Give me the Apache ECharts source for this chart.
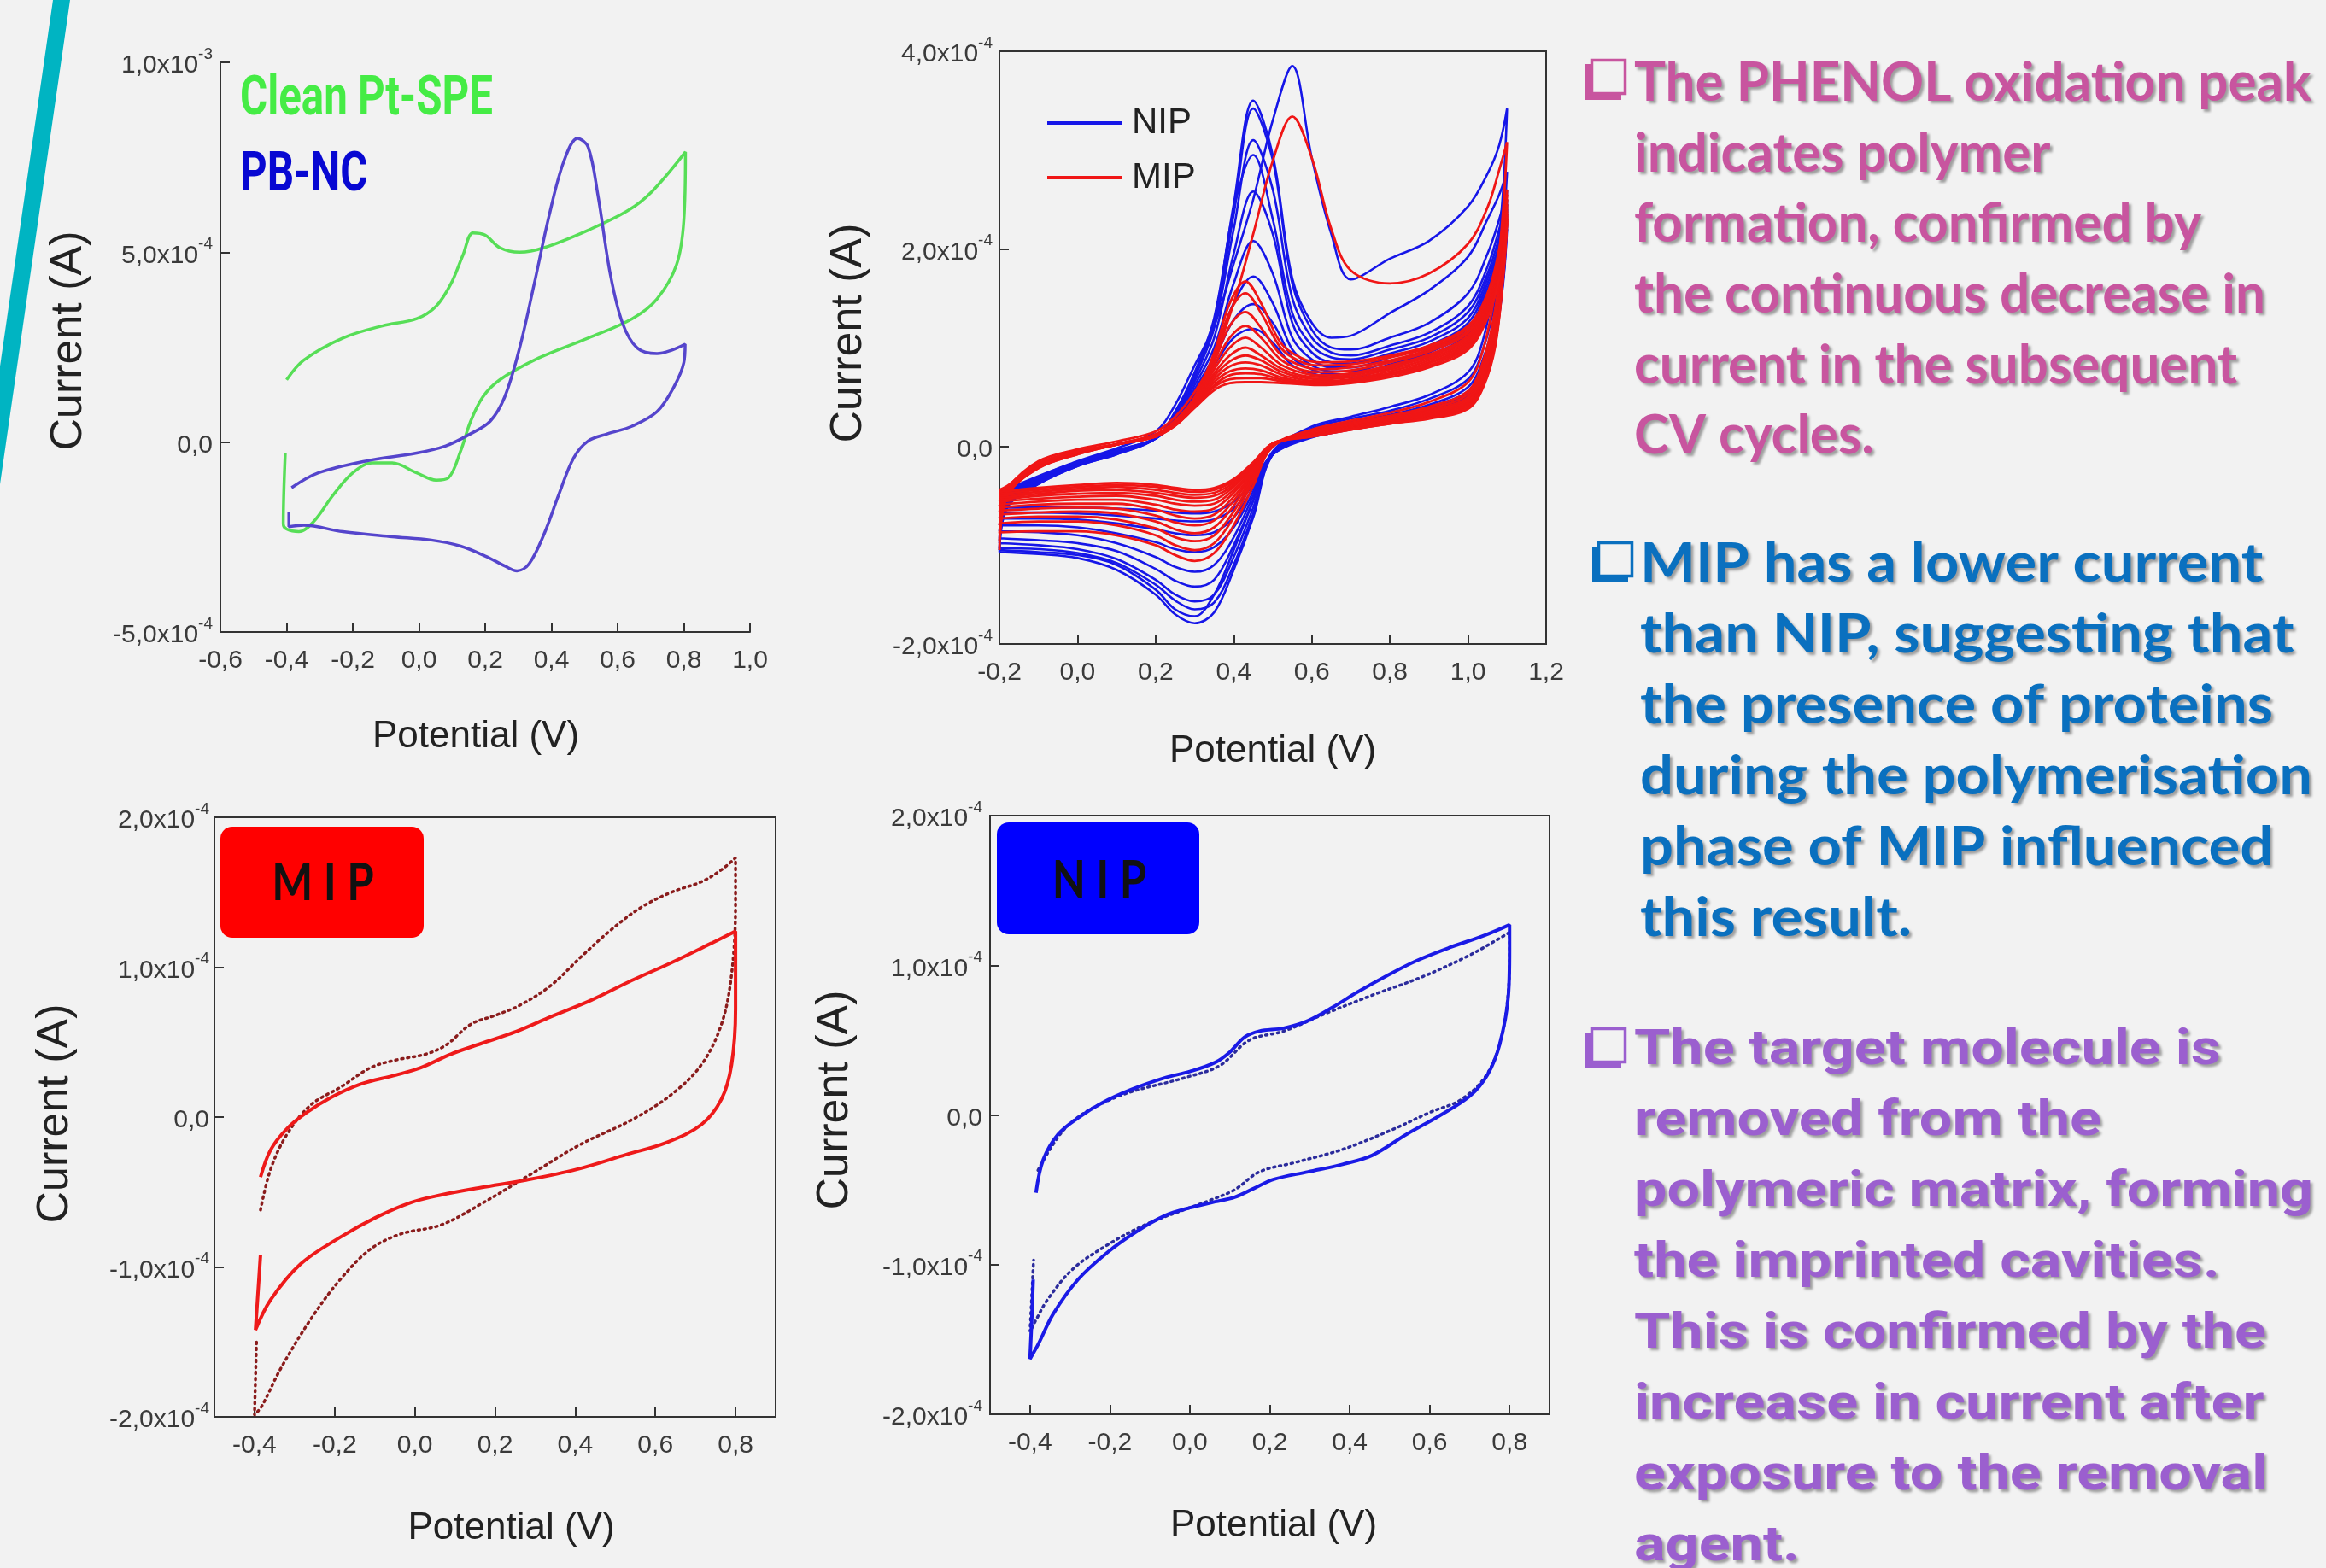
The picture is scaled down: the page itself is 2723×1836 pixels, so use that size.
<!DOCTYPE html>
<html><head><meta charset="utf-8">
<script src="https://cdn.jsdelivr.net/npm/echarts@6/dist/echarts.min.js"></script>
<style>html,body{margin:0;padding:0;background:#f2f2f2;}#c{width:2723px;height:1836px;}</style>
</head><body><div id="c"></div>
<script>
// ================= DATA (currents in units of 1e-4 A, potentials in V) =================
// Panel A (top-left)
const A_X_TICKS = [-0.6,-0.4,-0.2,0.0,0.2,0.4,0.6,0.8,1.0];
const A_X_LABELS = ['-0,6','-0,4','-0,2','0,0','0,2','0,4','0,6','0,8','1,0'];
const A_Y_TICKS = [-5,0,5,10];
const A_Y_LABELS = [['-5,0x10','-4'],['0,0',''],['5,0x10','-4'],['1,0x10','-3']];
const CLEAN_PT_SPE = [[-0.4,1.64],[-0.348,2.16],[-0.23,2.74],[-0.111,3.06],[-0.007,3.25],[0.052,3.58],[0.096,4.16],[0.133,4.93],[0.163,5.51],[0.2,5.45],[0.244,5.12],[0.304,5.0],[0.378,5.12],[0.511,5.58],[0.63,6.09],[0.704,6.6],[0.805,7.64],
 [0.8,5.83],[0.778,4.67],[0.719,3.77],[0.644,3.25],[0.511,2.74],[0.363,2.22],[0.244,1.64],[0.193,1.19],[0.156,0.55],[0.126,-0.23],[0.089,-0.94],[0.052,-1.0],[-0.007,-0.81],[-0.081,-0.55],[-0.141,-0.55],[-0.2,-0.81],[-0.259,-1.39],[-0.319,-2.1],[-0.363,-2.36],[-0.4,-2.29],[-0.41,-2.16],[-0.404,-0.29]];
const PB_NC = [[-0.385,-1.2],[-0.304,-0.81],[-0.156,-0.49],[-0.007,-0.29],[0.081,-0.1],[0.156,0.22],[0.215,0.55],[0.259,1.19],[0.304,2.48],[0.348,4.16],[0.393,5.96],[0.437,7.38],[0.479,8.0],[0.511,7.77],[0.541,6.48],[0.578,4.42],[0.615,3.13],[0.659,2.48],[0.719,2.33],[0.763,2.42],[0.804,2.58],
 [0.8,2.09],[0.77,1.45],[0.719,0.8],[0.644,0.42],[0.57,0.22],[0.511,0.03],[0.467,-0.42],[0.422,-1.39],[0.378,-2.42],[0.333,-3.2],[0.296,-3.39],[0.259,-3.26],[0.2,-3.0],[0.126,-2.74],[0.037,-2.58],[-0.081,-2.49],[-0.23,-2.36],[-0.348,-2.19],[-0.393,-2.23],[-0.393,-1.84]];

// Panel B (top-right): electropolymerisation cycles
const B_X_TICKS = [-0.2,0.0,0.2,0.4,0.6,0.8,1.0,1.2];
const B_X_LABELS = ['-0,2','0,0','0,2','0,4','0,6','0,8','1,0','1,2'];
const B_Y_TICKS = [-2,0,2,4];
const B_Y_LABELS = [['-2,0x10','-4'],['0,0',''],['2,0x10','-4'],['4,0x10','-4']];
const F_GRID_NIP = [-0.2,-0.18,-0.1,0,0.1,0.2,0.25,0.3,0.35,0.4,0.45,0.5,0.55,0.6,0.65,0.7,0.8,0.9,1.0,1.05,1.08,1.1];
const F_GRID_MIP = [-0.2,-0.18,-0.1,0,0.1,0.2,0.25,0.3,0.35,0.39,0.43,0.47,0.52,0.57,0.62,0.7,0.8,0.9,1.0,1.05,1.08,1.1];
const R_GRID = [1.1,1.09,1.07,1.04,1.0,0.9,0.8,0.7,0.6,0.5,0.45,0.4,0.35,0.3,0.25,0.2,0.1,0.0,-0.1,-0.2];
const NIP_FWD = [
 [-0.95,-0.6,-0.32,-0.15,-0.02,0.15,0.42,0.82,1.22,1.85,2.5,3.3,3.85,2.92,2.15,1.69,1.9,2.08,2.43,2.76,3.05,3.42],
 [-1.05,-0.62,-0.38,-0.2,-0.08,0.08,0.35,0.75,1.3,2.45,3.5,2.95,1.7,1.25,1.1,1.12,1.35,1.58,1.92,2.3,2.55,2.78],
 [-1.07,-0.6,-0.38,-0.2,-0.08,0.08,0.35,0.72,1.25,2.35,3.42,2.9,1.65,1.18,1.0,0.98,1.1,1.25,1.55,1.95,2.3,2.6],
 [-1.03,-0.58,-0.36,-0.19,-0.07,0.08,0.33,0.7,1.2,2.2,3.1,2.6,1.5,1.1,0.95,0.92,1.02,1.15,1.42,1.82,2.2,2.5],
 [-0.98,-0.56,-0.35,-0.18,-0.06,0.08,0.33,0.7,1.25,2.4,2.95,2.3,1.35,1.02,0.9,0.88,0.98,1.1,1.36,1.75,2.12,2.45],
 [-0.93,-0.54,-0.34,-0.18,-0.06,0.08,0.32,0.66,1.1,1.95,2.58,2.15,1.25,0.95,0.85,0.84,0.94,1.06,1.3,1.7,2.05,2.4],
 [-0.86,-0.52,-0.33,-0.17,-0.05,0.08,0.3,0.62,1.0,1.65,2.08,1.75,1.1,0.88,0.8,0.8,0.9,1.02,1.25,1.65,2.0,2.35],
 [-0.8,-0.5,-0.32,-0.17,-0.05,0.08,0.28,0.58,0.92,1.45,1.72,1.45,0.98,0.82,0.76,0.76,0.86,0.98,1.2,1.6,1.95,2.3],
 [-0.73,-0.48,-0.31,-0.16,-0.04,0.08,0.27,0.55,0.88,1.28,1.44,1.25,0.9,0.78,0.73,0.73,0.83,0.95,1.17,1.55,1.9,2.25],
 [-0.67,-0.46,-0.3,-0.16,-0.04,0.08,0.26,0.52,0.82,1.1,1.19,1.05,0.82,0.74,0.7,0.7,0.8,0.92,1.14,1.5,1.85,2.2]];
const NIP_REV = [
 [3.42,2.6,1.75,1.1,0.75,0.52,0.4,0.3,0.2,-0.05,-0.55,-1.05,-1.5,-1.72,-1.65,-1.45,-1.2,-1.1,-1.07,-1.05],
 [2.78,2.2,1.5,1.0,0.68,0.48,0.36,0.28,0.18,-0.08,-0.72,-1.25,-1.68,-1.79,-1.7,-1.5,-1.25,-1.13,-1.09,-1.07],
 [2.6,2.0,1.35,0.9,0.6,0.42,0.32,0.25,0.16,-0.08,-0.68,-1.2,-1.58,-1.65,-1.56,-1.4,-1.18,-1.08,-1.04,-1.03],
 [2.5,1.9,1.3,0.85,0.56,0.4,0.3,0.23,0.15,-0.08,-0.62,-1.12,-1.5,-1.57,-1.5,-1.35,-1.14,-1.04,-1.0,-0.98],
 [2.45,1.85,1.25,0.82,0.54,0.38,0.29,0.22,0.14,-0.08,-0.55,-1.0,-1.35,-1.42,-1.36,-1.24,-1.06,-0.98,-0.95,-0.93],
 [2.4,1.8,1.2,0.8,0.52,0.37,0.28,0.21,0.13,-0.08,-0.5,-0.92,-1.2,-1.27,-1.22,-1.12,-0.98,-0.9,-0.87,-0.86],
 [2.35,1.75,1.18,0.78,0.5,0.36,0.27,0.2,0.12,-0.08,-0.46,-0.82,-1.02,-1.07,-1.04,-0.97,-0.88,-0.82,-0.8,-0.8],
 [2.3,1.7,1.15,0.76,0.48,0.35,0.26,0.19,0.11,-0.08,-0.42,-0.72,-0.87,-0.9,-0.88,-0.84,-0.78,-0.74,-0.73,-0.73],
 [2.25,1.68,1.12,0.74,0.47,0.34,0.25,0.18,0.1,-0.08,-0.38,-0.63,-0.74,-0.76,-0.75,-0.73,-0.7,-0.68,-0.67,-0.67],
 [2.2,1.65,1.1,0.72,0.46,0.33,0.24,0.17,0.09,-0.08,-0.35,-0.56,-0.66,-0.68,-0.67,-0.65,-0.63,-0.62,-0.62,-0.62]];
const MIP_FIRST_FWD = [-0.6,-0.42,-0.15,-0.03,0.05,0.15,0.3,0.55,0.9,1.45,2.15,2.89,3.34,2.92,2.2,1.78,1.65,1.75,2.05,2.42,2.8,3.08];
const MIP_FWD = [
 [-1.05,-0.5,-0.22,-0.08,0.02,0.12,0.26,0.5,0.95,1.45,1.67,1.45,1.05,0.9,0.85,0.86,0.92,1.02,1.22,1.55,2.0,2.6],
 [-0.96,-0.5,-0.22,-0.08,0.02,0.12,0.26,0.49,0.9,1.36,1.55,1.35,1.0,0.86,0.82,0.83,0.9,1.0,1.2,1.52,1.97,2.55],
 [-0.88,-0.49,-0.21,-0.07,0.02,0.12,0.25,0.48,0.86,1.22,1.36,1.2,0.93,0.82,0.78,0.8,0.87,0.98,1.17,1.5,1.94,2.5],
 [-0.8,-0.48,-0.21,-0.07,0.02,0.12,0.25,0.47,0.82,1.1,1.22,1.1,0.88,0.78,0.75,0.77,0.85,0.96,1.15,1.47,1.9,2.45],
 [-0.73,-0.47,-0.2,-0.07,0.02,0.11,0.24,0.46,0.78,1.0,1.1,1.0,0.83,0.75,0.72,0.74,0.82,0.93,1.12,1.44,1.86,2.42],
 [-0.66,-0.46,-0.2,-0.06,0.02,0.11,0.24,0.45,0.74,0.92,1.0,0.92,0.79,0.72,0.7,0.72,0.8,0.91,1.1,1.42,1.83,2.38],
 [-0.6,-0.45,-0.2,-0.06,0.02,0.11,0.23,0.44,0.71,0.86,0.92,0.87,0.76,0.7,0.68,0.7,0.78,0.89,1.08,1.4,1.8,2.35],
 [-0.56,-0.44,-0.19,-0.06,0.02,0.11,0.23,0.43,0.68,0.81,0.85,0.82,0.73,0.68,0.66,0.68,0.76,0.87,1.06,1.38,1.78,2.33],
 [-0.52,-0.43,-0.19,-0.06,0.02,0.1,0.22,0.42,0.65,0.76,0.79,0.77,0.7,0.66,0.65,0.67,0.74,0.85,1.04,1.36,1.76,2.31],
 [-0.49,-0.42,-0.18,-0.05,0.02,0.1,0.22,0.41,0.62,0.72,0.74,0.73,0.68,0.65,0.64,0.66,0.73,0.84,1.02,1.34,1.74,2.3],
 [-0.46,-0.41,-0.18,-0.05,0.02,0.1,0.21,0.4,0.6,0.68,0.69,0.69,0.66,0.64,0.63,0.65,0.72,0.82,1.0,1.32,1.72,2.28],
 [-0.44,-0.4,-0.17,-0.05,0.02,0.1,0.21,0.39,0.57,0.64,0.65,0.65,0.64,0.63,0.62,0.64,0.7,0.8,0.98,1.3,1.7,2.26]];
const MIP_REV = [
 [3.08,2.4,1.6,1.0,0.65,0.45,0.34,0.26,0.17,0.0,-0.4,-0.8,-1.08,-1.16,-1.1,-1.0,-0.9,-0.86,-0.86,-0.87],
 [2.6,2.05,1.4,0.88,0.56,0.4,0.31,0.24,0.15,0.0,-0.35,-0.72,-0.98,-1.05,-1.0,-0.9,-0.8,-0.76,-0.76,-0.78],
 [2.55,2.0,1.35,0.84,0.53,0.38,0.3,0.23,0.15,0.0,-0.32,-0.66,-0.9,-0.96,-0.92,-0.83,-0.74,-0.71,-0.71,-0.73],
 [2.5,1.95,1.3,0.8,0.5,0.36,0.29,0.22,0.14,0.01,-0.3,-0.6,-0.82,-0.88,-0.84,-0.76,-0.68,-0.66,-0.67,-0.69],
 [2.45,1.9,1.25,0.76,0.48,0.35,0.28,0.21,0.13,0.01,-0.28,-0.55,-0.75,-0.8,-0.77,-0.7,-0.63,-0.62,-0.63,-0.65],
 [2.42,1.87,1.2,0.73,0.46,0.34,0.27,0.2,0.13,0.02,-0.26,-0.51,-0.69,-0.73,-0.7,-0.64,-0.58,-0.58,-0.59,-0.62],
 [2.38,1.84,1.16,0.7,0.44,0.33,0.26,0.2,0.12,0.02,-0.24,-0.47,-0.63,-0.66,-0.64,-0.59,-0.54,-0.54,-0.56,-0.59],
 [2.35,1.81,1.13,0.68,0.43,0.32,0.25,0.19,0.12,0.02,-0.22,-0.44,-0.58,-0.6,-0.58,-0.54,-0.5,-0.51,-0.53,-0.56],
 [2.33,1.79,1.1,0.66,0.42,0.31,0.25,0.19,0.11,0.03,-0.2,-0.41,-0.54,-0.56,-0.54,-0.5,-0.47,-0.48,-0.5,-0.54],
 [2.31,1.77,1.08,0.64,0.41,0.3,0.24,0.18,0.11,0.03,-0.19,-0.39,-0.5,-0.52,-0.5,-0.47,-0.44,-0.45,-0.48,-0.52],
 [2.3,1.75,1.06,0.63,0.4,0.29,0.24,0.18,0.11,0.03,-0.18,-0.37,-0.47,-0.49,-0.47,-0.44,-0.41,-0.43,-0.46,-0.5],
 [2.28,1.73,1.04,0.62,0.39,0.29,0.23,0.17,0.1,0.03,-0.17,-0.35,-0.44,-0.46,-0.44,-0.41,-0.39,-0.41,-0.44,-0.48],
 [2.26,1.71,1.02,0.61,0.38,0.28,0.23,0.17,0.1,0.03,-0.16,-0.33,-0.42,-0.44,-0.42,-0.39,-0.37,-0.39,-0.42,-0.46]];

// Panels C and D (bottom)
const C_X_TICKS = [-0.4,-0.2,0.0,0.2,0.4,0.6,0.8];
const C_X_LABELS = ['-0,4','-0,2','0,0','0,2','0,4','0,6','0,8'];
const C_Y_TICKS = [-2,-1,0,1,2];
const C_Y_LABELS = [['-2,0x10','-4'],['-1,0x10','-4'],['0,0',''],['1,0x10','-4'],['2,0x10','-4']];
const MIP_SOLID = [[-0.385,-0.4],[-0.36,-0.22],[-0.32,-0.08],[-0.27,0.03],[-0.21,0.13],[-0.135,0.22],[-0.048,0.28],[0.015,0.33],[0.09,0.42],[0.165,0.49],[0.2525,0.57],[0.34,0.67],[0.44,0.78],[0.54,0.91],[0.64,1.03],[0.74,1.16],[0.8,1.24],
 [0.8,1.12],[0.8,0.72],[0.79,0.35],[0.765,0.12],[0.715,-0.05],[0.6275,-0.17],[0.5275,-0.25],[0.4025,-0.35],[0.2775,-0.42],[0.165,-0.47],[0.065,-0.52],[-0.01,-0.57],[-0.0975,-0.67],[-0.185,-0.8],[-0.285,-0.98],[-0.36,-1.22],[-0.3975,-1.42],[-0.39,-1.12],[-0.385,-0.92]];
const MIP_DOTTED = [[-0.385,-0.62],[-0.36,-0.35],[-0.32,-0.12],[-0.26,0.08],[-0.185,0.2],[-0.11,0.33],[-0.048,0.38],[0.0275,0.42],[0.0775,0.48],[0.14,0.62],[0.2025,0.68],[0.265,0.75],[0.34,0.88],[0.415,1.07],[0.49,1.25],[0.565,1.4],[0.64,1.5],[0.715,1.57],[0.765,1.65],[0.8,1.73],
 [0.8,1.42],[0.79,0.95],[0.765,0.62],[0.715,0.35],[0.64,0.15],[0.54,-0.02],[0.415,-0.18],[0.29,-0.38],[0.165,-0.58],[0.065,-0.72],[-0.035,-0.78],[-0.11,-0.88],[-0.185,-1.08],[-0.26,-1.35],[-0.335,-1.68],[-0.38,-1.92],[-0.4,-1.99],[-0.395,-1.5]];
const NIP_SOLID = [[-0.385,-0.52],[-0.367,-0.3],[-0.33,-0.13],[-0.28,-0.02],[-0.22,0.08],[-0.146,0.17],[-0.06,0.25],[0.0,0.29],[0.063,0.35],[0.1,0.42],[0.137,0.52],[0.174,0.56],[0.235,0.58],[0.296,0.63],[0.358,0.72],[0.419,0.82],[0.493,0.93],[0.567,1.03],[0.652,1.12],[0.738,1.2],[0.8,1.27],
 [0.8,1.1],[0.797,0.8],[0.775,0.47],[0.745,0.27],[0.702,0.13],[0.628,0.0],[0.542,-0.13],[0.456,-0.27],[0.382,-0.33],[0.296,-0.38],[0.21,-0.43],[0.161,-0.49],[0.112,-0.55],[0.063,-0.58],[0.0,-0.62],[-0.06,-0.67],[-0.134,-0.78],[-0.207,-0.92],[-0.28,-1.1],[-0.342,-1.33],[-0.379,-1.53],[-0.4,-1.63],[-0.395,-1.33],[-0.392,-1.1]];
const NIP_DOTTED = [[-0.38,-0.37],[-0.305,-0.07],[-0.183,0.12],[-0.011,0.25],[0.075,0.33],[0.149,0.5],[0.235,0.56],[0.333,0.67],[0.456,0.8],[0.579,0.92],[0.702,1.07],[0.8,1.22],
 [0.8,1.07],[0.795,0.77],[0.775,0.47],[0.738,0.25],[0.677,0.1],[0.603,0.02],[0.505,-0.1],[0.382,-0.23],[0.26,-0.32],[0.174,-0.38],[0.112,-0.5],[0.051,-0.57],[0.0,-0.62],[-0.109,-0.73],[-0.207,-0.87],[-0.293,-1.03],[-0.355,-1.23],[-0.385,-1.37],[-0.4,-1.45],[-0.391,-0.97]];

// Text
const NOTE_1 = ['The PHENOL oxidation peak','indicates polymer','formation, confirmed by','the continuous decrease in','current in the subsequent','CV cycles.'];
const NOTE_2 = ['MIP has a lower current','than NIP, suggesting that','the presence of proteins','during the polymerisation','phase of MIP influenced','this result.'];
const NOTE_3 = ['The target molecule is','removed from the','polymeric matrix, forming','the imprinted cavities.','This is confirmed by the','increase in current after','exposure to the removal','agent.'];

// ================= RENDER =================
const REGULAR = "'Liberation Sans',Arial,sans-serif";
const AX = '#333';
const LBL = '#3a3a3a';

function lookup(ticks, labels){ return v => { const i = ticks.findIndex(t => Math.abs(t - v) < 1e-6); return i < 0 ? '' : labels[i]; }; }
function yFmt(ticks, labels){ return v => { const i = ticks.findIndex(t => Math.abs(t - v) < 1e-6); if (i < 0) return ''; const [m, e] = labels[i]; return e ? '{b|' + m + '}{s|' + e + '}' : '{b|' + m + '}'; }; }
const RICH = { b:{fontSize:30, fontFamily:REGULAR, color:LBL, lineHeight:38, verticalAlign:'bottom'}, s:{fontSize:19, fontFamily:REGULAR, color:LBL, lineHeight:20, verticalAlign:'top'} };

function xAx(gi, min, max, interval, ticks, labels, gap, pad, custom){
  const o = { type:'value', gridIndex:gi, min, max, interval, splitLine:{show:false},
    axisLine:{show:true, onZero:false, lineStyle:{color:AX, width:2}},
    axisTick:{show:true, inside:true, length:11, lineStyle:{color:AX, width:2}},
    axisLabel:{margin:19, fontSize:30, fontFamily:REGULAR, color:LBL, formatter:lookup(ticks, labels)},
    name:'Potential (V)', nameLocation:'middle', nameGap:gap,
    nameTextStyle:{fontSize:44, fontFamily:REGULAR, color:'#222', padding:pad} };
  if (custom){ o.axisTick.customValues = ticks; o.axisLabel.customValues = ticks; }
  return o;
}
function yAx(gi, min, max, interval, ticks, labels, gap, pad, margin){
  return { type:'value', gridIndex:gi, min, max, interval, splitLine:{show:false},
    axisLine:{show:true, onZero:false, lineStyle:{color:AX, width:2}},
    axisTick:{show:true, inside:true, length:11, lineStyle:{color:AX, width:2}},
    axisLabel:{margin:margin, formatter:yFmt(ticks, labels), rich:RICH},
    name:'Current (A)', nameLocation:'middle', nameGap:gap,
    nameTextStyle:{fontSize:52, fontFamily:REGULAR, color:'#222', padding:pad} };
}

const series = [];
series.push({name:'Clean Pt-SPE', type:'line', xAxisIndex:0, yAxisIndex:0, data:CLEAN_PT_SPE, smooth:0.35, symbol:'none', lineStyle:{color:'#57de57', width:3.5}, itemStyle:{color:'#57de57'}});
series.push({name:'PB-NC', type:'line', xAxisIndex:0, yAxisIndex:0, data:PB_NC, smooth:0.35, symbol:'none', lineStyle:{color:'#5545cc', width:3.5}, itemStyle:{color:'#5545cc'}});
const BLUE = '#1616e8', RED = '#f01616';
NIP_FWD.forEach((f, k) => {
  const d = F_GRID_NIP.map((x, i) => [x, f[i]]).concat(R_GRID.map((x, i) => [x, NIP_REV[k][i]]));
  series.push({name:'NIP', type:'line', xAxisIndex:1, yAxisIndex:1, data:d, smooth:0.35, symbol:'none', lineStyle:{color:BLUE, width:2.6}, itemStyle:{color:BLUE}});
});
MIP_REV.forEach((r, k) => {
  const grid = k === 0 ? F_GRID_NIP : F_GRID_MIP;
  const f = k === 0 ? MIP_FIRST_FWD : MIP_FWD[k - 1];
  const d = grid.map((x, i) => [x, f[i]]).concat(R_GRID.map((x, i) => [x, r[i]]));
  series.push({name:'MIP', type:'line', xAxisIndex:1, yAxisIndex:1, data:d, smooth:0.35, symbol:'none', lineStyle:{color:RED, width:2.8}, itemStyle:{color:RED}});
});
series.push({name:'MIP after removal', type:'line', xAxisIndex:2, yAxisIndex:2, data:MIP_DOTTED, smooth:0.35, symbol:'none', lineStyle:{color:'#8a1c1c', width:3.5, type:[2,5], cap:'round'}});
series.push({name:'MIP before removal', type:'line', xAxisIndex:2, yAxisIndex:2, data:MIP_SOLID, smooth:0.35, symbol:'none', lineStyle:{color:'#ee1a1a', width:4}});
series.push({name:'NIP after removal', type:'line', xAxisIndex:3, yAxisIndex:3, data:NIP_DOTTED, smooth:0.35, symbol:'none', lineStyle:{color:'#2b2b9c', width:3.5, type:[2,5], cap:'round'}});
series.push({name:'NIP before removal', type:'line', xAxisIndex:3, yAxisIndex:3, data:NIP_SOLID, smooth:0.35, symbol:'none', lineStyle:{color:'#1a1ae6', width:4}});

// ---- graphic texts ----
const mctx = document.createElement('canvas').getContext('2d');
function textW(font, t){ mctx.font = font; return mctx.measureText(t).width; }
const G = [];
G.push({type:'polygon', shape:{points:[[62,0],[82,0],[0,567],[0,429]]}, style:{fill:'#00b4c2'}, silent:true, z:1});
// panel A legend
const LEG_FONT = "bold 64px Roboto";
const legScale = 296 / textW(LEG_FONT, 'Clean Pt-SPE');
G.push({type:'text', x:281, y:118, scaleX:legScale, z:10, style:{text:'Clean Pt-SPE', font:LEG_FONT, fill:'#45ec45', align:'left', verticalAlign:'middle'}});
G.push({type:'text', x:281, y:207, scaleX:legScale, z:10, style:{text:'PB-NC', font:LEG_FONT, fill:'#0808d2', align:'left', verticalAlign:'middle'}});
// badges
const BADGE_FONT = "bold 62px Lato";
const badgeScale = 0.82;
G.push({type:'rect', shape:{x:258, y:968, width:238, height:130, r:14}, style:{fill:'#ff0000'}, z:10});
G.push({type:'text', x:378, y:1034, scaleX:badgeScale, z:11, style:{text:'M I P', font:BADGE_FONT, fill:'#111', align:'center', verticalAlign:'middle'}});
G.push({type:'rect', shape:{x:1167, y:963, width:237, height:131, r:14}, style:{fill:'#0000ff'}, z:10});
G.push({type:'text', x:1287, y:1031, scaleX:badgeScale, z:11, style:{text:'N I P', font:BADGE_FONT, fill:'#111', align:'center', verticalAlign:'middle'}});
// note blocks
function checkbox(x, y, s, color){
  G.push({type:'polygon', z:10, shape:{points:[[x,y+6],[x+6,y+6],[x+6,y+s-6],[x+s-6,y+s-6],[x+s-6,y+s],[x,y+s]]}, style:{fill:color}});
  G.push({type:'rect', z:10, shape:{x:x+7.5, y:y+1.5, width:s-9, height:s-9}, style:{fill:'none', stroke:color, lineWidth:3.5}});
}
function block(lines, font, size, color, x, base0, step, fitIdx, fitW, boxX, boxY){
  const sc = fitW / textW(font, lines[fitIdx]);
  lines.forEach((t, i) => {
    G.push({type:'text', x:x, y:base0 + i * step - 0.34 * size, scaleX:sc, z:10,
      style:{text:t, font:font, fill:color, align:'left', verticalAlign:'middle',
        textShadowColor:'rgba(0,0,0,0.35)', textShadowBlur:3, textShadowOffsetX:3, textShadowOffsetY:3}});
  });
  checkbox(boxX, boxY, 48, color);
}
block(NOTE_1, 'bold 64px Lato', 64, '#c8559f', 1913, 119, 82.7, 0, 793, 1856, 69);
block(NOTE_2, 'bold 64px Lato', 64, '#0a70bf', 1920, 682, 83, 3, 787, 1864, 634);
block(NOTE_3, 'bold 58px Roboto', 58, '#9b5fcf', 1913, 1251, 83, 4, 740, 1856, 1203);

const option = {
  backgroundColor:'#f2f2f2', animation:false,
  textStyle:{fontFamily:REGULAR},
  grid:[
    {left:258, top:73, width:620, height:667, outerBoundsMode:'none'},
    {left:1170, top:60, width:640, height:694, show:true, borderColor:AX, borderWidth:2, backgroundColor:'transparent', outerBoundsMode:'none'},
    {left:251, top:957, width:657, height:702, show:true, borderColor:AX, borderWidth:2, backgroundColor:'transparent', outerBoundsMode:'none'},
    {left:1159, top:955, width:655, height:701, show:true, borderColor:AX, borderWidth:2, backgroundColor:'transparent', outerBoundsMode:'none'}
  ],
  xAxis:[
    xAx(0, -0.6, 1.0, 0.2, A_X_TICKS, A_X_LABELS, 101, [0,22,0,0], false),
    xAx(1, -0.2, 1.2, 0.2, B_X_TICKS, B_X_LABELS, 104, [0,0,0,0], false),
    xAx(2, -0.5, 0.9, 0.1, C_X_TICKS, C_X_LABELS, 109, [0,0,0,38], true),
    xAx(3, -0.5, 0.9, 0.1, C_X_TICKS, C_X_LABELS, 109, [0,0,0,9], true)
  ],
  yAxis:[
    yAx(0, -5, 10, 5, A_Y_TICKS, A_Y_LABELS, 151, [0,0,0,15], 9),
    yAx(1, -2, 4, 2, B_Y_TICKS, B_Y_LABELS, 150, [0,0,0,34], 8),
    yAx(2, -2, 2, 1, C_Y_TICKS, C_Y_LABELS, 160, [0,0,0,8], 6),
    yAx(3, -2, 2, 1, C_Y_TICKS, C_Y_LABELS, 155, [0,0,0,35], 9)
  ],
  legend:{data:['NIP','MIP'], orient:'vertical', left:1221, top:117, icon:'rect', itemWidth:88, itemHeight:4, itemGap:20, selectedMode:false,
    textStyle:{fontSize:42, fontFamily:REGULAR, color:'#222', lineHeight:44, padding:[0,0,0,6]}},
  series:series,
  graphic:{elements:G}
};
const chart = echarts.init(document.getElementById('c'), null, {width:2723, height:1836});
chart.setOption(option);
</script></body></html>
